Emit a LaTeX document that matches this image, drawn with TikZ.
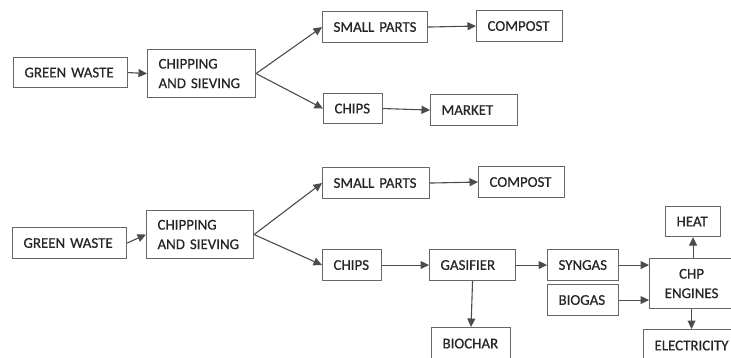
\documentclass[tikz,border=0pt]{standalone}
\usepackage{fontspec}
\setmainfont{Carlito}
\newfontfamily\stagefont{Carlito}[FakeBold=0.6]
\usetikzlibrary{arrows.meta}
\tikzset{
  stage/.style={draw=black!60, line width=1.1pt, anchor=north west, inner xsep=11pt, inner ysep=0pt,
    align=left, text=black!85, font=\stagefont\fontsize{14.9}{19.5}\selectfont},
  flow/.style={draw=black!70, line width=1.1pt, -{Triangle[length=8.5pt,width=8pt]}}
}
\begin{document}
\begin{tikzpicture}[x=1pt,y=-1pt]
        % Page frame
        \clip (0,0) rectangle (731,358);
        % Upper chain: composting and market
        \node[stage, text width=92pt, minimum height=30pt] (gw1) at (13,57) {GREEN WASTE};
        \node[stage, text width=86pt, minimum height=48pt] (cs1) at (147,49) {CHIPPING\\AND SIEVING};
        \node[stage, text width=83pt, minimum height=31pt] (sp1) at (322,11) {SMALL PARTS};
        \node[stage, text width=64pt, minimum height=31pt] (co1) at (476,10) {COMPOST};
        \node[stage, text width=37pt, minimum height=30pt] (ch1) at (323,93) {CHIPS};
        \node[stage, text width=65pt, minimum height=31pt] (mk1) at (430,94) {MARKET};
        \draw[flow] (gw1.east) -- (cs1.west);
        \draw[flow] (cs1.east) -- (sp1.west);
        \draw[flow] (cs1.east) -- (ch1.west);
        \draw[flow] (sp1.east) -- (co1.west);
        \draw[flow] (ch1.east) -- (mk1.west);
        % Lower chain: gasification and CHP
        \node[stage, text width=92pt, minimum height=31pt] (gw2) at (12,227) {GREEN WASTE};
        \node[stage, text width=85pt, minimum height=48pt] (cs2) at (146,210) {CHIPPING\\AND SIEVING};
        \node[stage, text width=85pt, minimum height=31pt] (sp2) at (322,167) {SMALL PARTS};
        \node[stage, text width=64pt, minimum height=31pt] (co2) at (478,166) {COMPOST};
        \node[stage, text width=37pt, minimum height=31pt] (ch2) at (322,249) {CHIPS};
        \node[stage, text width=64pt, minimum height=31pt] (ga2) at (429,249) {GASIFIER};
        \node[stage, text width=49pt, minimum height=31pt] (sy2) at (547,249) {SYNGAS};
        \node[stage, text width=49pt, minimum height=31pt] (bg2) at (547,284) {BIOGAS};
        \node[stage, text width=57pt, minimum height=32pt] (bc2) at (431,327) {BIOCHAR};
        \node[stage, text width=62pt, minimum height=50pt, align=center] (chp) at (649,258) {CHP\\ENGINES};
        \node[stage, text width=33pt, minimum height=30pt] (ht2) at (665,206) {HEAT};
        \node[stage, text width=68pt, minimum height=32pt] (el2) at (643,329) {ELECTRICITY};
        \draw[flow] (gw2.east) -- (cs2.west);
        \draw[flow] (cs2.east) -- (sp2.west);
        \draw[flow] (cs2.east) -- (ch2.west);
        \draw[flow] (sp2.east) -- (co2.west);
        \draw[flow] (ch2.east) -- (ga2.west);
        \draw[flow] (ga2.east) -- (sy2.west);
        \draw[flow] (ga2.south) -- (bc2.north);
        \draw[flow] (sy2.east) -- (sy2.east -| chp.west);
        \draw[flow] (bg2.east) -- (bg2.east -| chp.west);
        \draw[flow] (ht2.south |- chp.north) -- (ht2.south);
        \draw[flow] (chp.south) -- (chp.south |- el2.north);
\end{tikzpicture}
\end{document}
